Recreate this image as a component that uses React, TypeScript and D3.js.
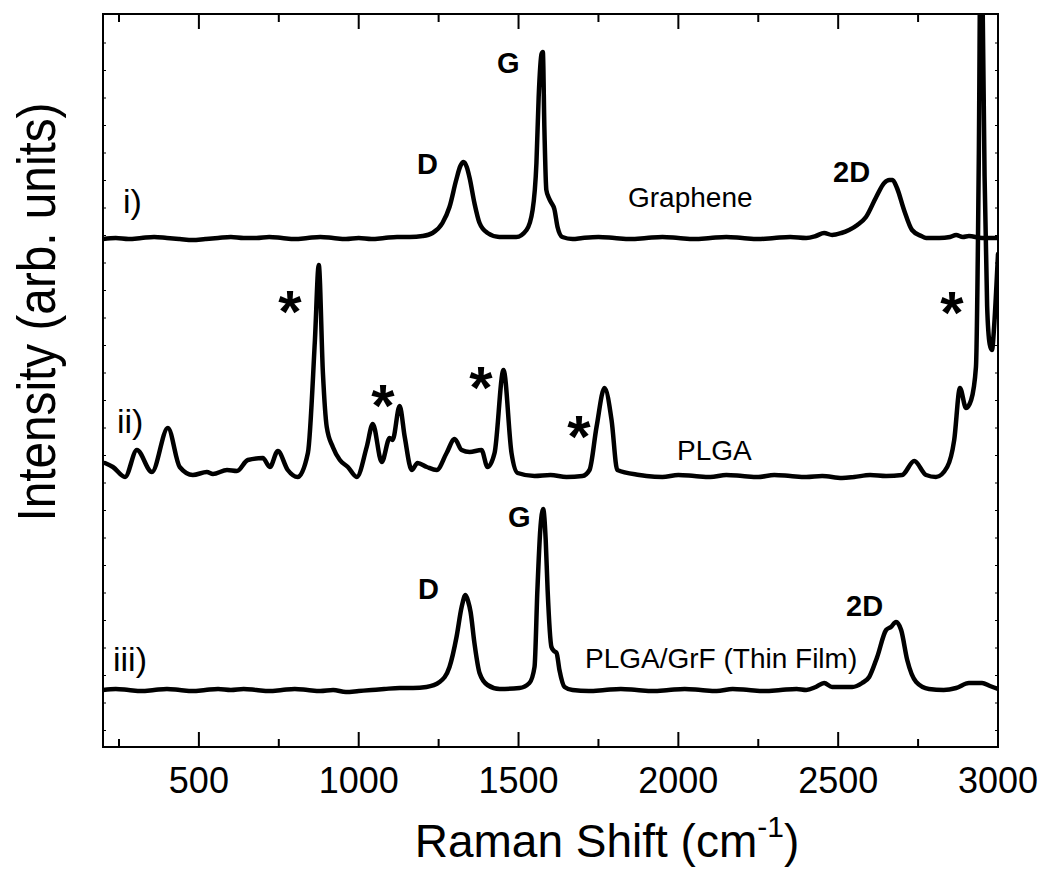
import React from 'react';
import * as d3 from 'd3';

// Raman shift (cm-1) / intensity (arb. units, relative to each trace's own baseline)
const grapheneShift = [200, 240, 280, 320, 360, 400, 440, 480, 520, 560, 600, 640, 680, 720, 760, 800, 840, 880, 920, 960, 1000, 1040, 1080, 1120, 1160, 1200, 1231, 1262, 1284, 1305, 1318, 1328, 1338, 1347, 1362, 1378, 1403, 1440, 1493, 1525, 1544, 1556, 1563, 1572, 1576, 1581, 1587, 1595, 1603, 1612, 1622, 1637, 1669, 1700, 1750, 1800, 1850, 1900, 1950, 2000, 2050, 2100, 2150, 2200, 2250, 2300, 2350, 2400, 2430, 2456, 2481, 2510, 2534, 2560, 2587, 2619, 2644, 2660, 2670, 2684, 2706, 2731, 2760, 2775, 2816, 2850, 2869, 2890, 2909, 2950, 3000];
const grapheneIntensity = [-1, 0, -1, 0, 1, 0, -1, -2, -1, 0, 1, 0, 0, 1, 0, -1, 0, 1, 0, -1, 0, -1, 0, 1, 1, 2, 5, 15, 31, 58, 72, 76, 71, 60, 35, 15, 5, 1, 1, 8, 28, 75, 141, 184, 186, 108, 48, 40, 35, 29, 11, 1, -1, 0, 1, 0, -1, 0, 1, 0, -1, 0, 1, 0, -1, 0, 1, 0, 2, 5, 3, 5, 8, 13, 21, 41, 55, 58, 58, 50, 28, 8, 2, 0, 0, 1, 3, 1, 2, 0, 0];

const plgaShift = [206, 231, 269, 306, 353, 403, 440, 481, 525, 544, 588, 619, 653, 700, 722, 747, 778, 809, 841, 863, 875, 888, 900, 919, 941, 966, 994, 1025, 1044, 1072, 1097, 1106, 1128, 1144, 1166, 1184, 1213, 1244, 1275, 1300, 1322, 1347, 1384, 1403, 1425, 1453, 1478, 1497, 1550, 1600, 1650, 1700, 1722, 1744, 1769, 1791, 1809, 1878, 1900, 1950, 2000, 2050, 2100, 2150, 2200, 2250, 2300, 2350, 2400, 2450, 2512, 2550, 2600, 2650, 2700, 2738, 2775, 2806, 2841, 2863, 2881, 2900, 2916, 2931, 2940, 2946, 2952, 2958, 2966, 2974, 2981, 2988, 2995, 3000];
const plgaIntensity = [13, 9, -1, 26, 4, 48, 9, 1, 4, 2, 6, 5, 16, 18, 9, 25, 6, -1, 23, 136, 211, 103, 49, 29, 16, 9, -1, 29, 52, 14, 38, 36, 70, 39, 6, 13, 9, 6, 23, 37, 26, 24, 26, 9, 23, 106, 23, 3, 0, 1, -1, 0, 6, 49, 88, 56, 6, 1, 0, -1, 1, 0, -1, 1, 0, -1, 1, 0, -1, 0, -2, -1, 1, 0, 1, 15, 1, -1, 9, 36, 88, 68, 76, 109, 320, 560, 470, 300, 170, 132, 126, 150, 190, 222];

const filmShift = [200, 240, 280, 320, 360, 400, 440, 480, 520, 560, 600, 640, 680, 720, 760, 800, 840, 880, 920, 960, 1000, 1040, 1080, 1128, 1170, 1212, 1253, 1284, 1306, 1322, 1334, 1342, 1350, 1362, 1378, 1403, 1441, 1503, 1534, 1550, 1559, 1568, 1577, 1585, 1591, 1603, 1611, 1619, 1628, 1644, 1669, 1720, 1770, 1820, 1870, 1920, 1970, 2020, 2070, 2120, 2170, 2220, 2270, 2320, 2370, 2400, 2430, 2456, 2481, 2544, 2575, 2597, 2622, 2650, 2665, 2681, 2697, 2716, 2744, 2784, 2830, 2869, 2909, 2950, 2975, 3000];
const filmIntensity = [0, 1, 0, -1, 0, 1, 0, -1, 0, 1, 0, 1, 0, -1, 0, 1, 0, -1, 0, -2, -1, 0, 1, 2, 2, 3, 8, 23, 53, 83, 95, 89, 78, 47, 17, 5, 1, 2, 7, 23, 100, 160, 181, 150, 100, 43, 39, 37, 20, 3, 0, -1, 0, 1, 0, -1, 0, 1, 0, -1, 1, 0, -1, 0, 1, 0, 3, 7, 3, 3, 7, 13, 33, 60, 63, 68, 60, 30, 8, 1, 0, 2, 7, 7, 4, 1];

// vertical offsets of the stacked traces
const offsets = { graphene: 509, plga: 271, film: 57 };

const majorTicks = [500, 1000, 1500, 2000, 2500, 3000];
const minorTicks = [250, 750, 1250, 1750, 2250, 2750];

const peakLabels = [
  { text: 'D', x: 417, y: 174 },
  { text: 'G', x: 497, y: 73 },
  { text: '2D', x: 833, y: 182 },
  { text: 'D', x: 418, y: 599 },
  { text: 'G', x: 508, y: 527 },
  { text: '2D', x: 846, y: 616 },
];
const stars = [
  [290, 298],
  [383, 392],
  [481, 374],
  [579, 423],
  [952, 299],
];

const font = '"Liberation Sans", Arial, Helvetica, sans-serif';

const App = () => {
  const W = 1044;
  const H = 869;
  const left = 103, right = 998, top = 14, bottom = 747;

  const x = d3.scaleLinear().domain([200, 3000]).range([left, right]);
  const y = d3.scaleLinear().domain([0, 733]).range([bottom, top]);

  const makeLine = (off: number) =>
    d3.line<[number, number]>()
      .x(d => x(d[0]))
      .y(d => y(d[1] + off))
      .curve(d3.curveMonotoneX);

  const series = [
    { xs: grapheneShift, ys: grapheneIntensity, off: offsets.graphene },
    { xs: plgaShift, ys: plgaIntensity, off: offsets.plga },
    { xs: filmShift, ys: filmIntensity, off: offsets.film },
  ];

  const yTicks = d3.range(704, 10, -27.5);

  return (
    <svg width={W} height={H} style={{ position: 'absolute', left: 0, top: 0, background: '#fff' }} fontFamily={font}>
      <defs>
        <clipPath id="plot">
          <rect x={left} y={top} width={right - left} height={bottom - top} />
        </clipPath>
      </defs>

      <g clipPath="url(#plot)">
        {series.map((s, i) => (
          <path key={i}
            d={makeLine(s.off)(s.xs.map((v, j) => [v, s.ys[j]] as [number, number])) || ''}
            fill="none" stroke="#000" strokeWidth={4.5} strokeLinejoin="round" strokeLinecap="round" />
        ))}
      </g>

      {/* frame */}
      <rect x={left} y={top} width={right - left} height={bottom - top} fill="none" stroke="#000" strokeWidth={2} />
      {majorTicks.map(t => (
        <g key={'M' + t}>
          <line x1={x(t)} x2={x(t)} y1={bottom} y2={bottom - 15} stroke="#000" strokeWidth={2} />
          <line x1={x(t)} x2={x(t)} y1={top} y2={top + 15} stroke="#000" strokeWidth={2} />
          <text x={x(t)} y={793} textAnchor="middle" fontSize={36}>{t}</text>
        </g>
      ))}
      {minorTicks.map(t => (
        <g key={'m' + t}>
          <line x1={x(t)} x2={x(t)} y1={bottom} y2={bottom - 8} stroke="#000" strokeWidth={2} />
          <line x1={x(t)} x2={x(t)} y1={top} y2={top + 8} stroke="#000" strokeWidth={2} />
        </g>
      ))}
      {yTicks.map(t => (
        <g key={'y' + t}>
          <line x1={left} x2={left + 3} y1={y(t)} y2={y(t)} stroke="#000" strokeWidth={1} />
          <line x1={right - 3} x2={right} y1={y(t)} y2={y(t)} stroke="#000" strokeWidth={1} />
        </g>
      ))}

      {/* axis titles */}
      <text x={607} y={857} textAnchor="middle" fontSize={46}>
        Raman Shift (cm<tspan fontSize={30} dy={-20}>-1</tspan><tspan dy={20}>)</tspan>
      </text>
      <text transform="translate(55,312) rotate(-90)" textAnchor="middle" fontSize={54}
        textLength={419} lengthAdjust="spacingAndGlyphs">Intensity (arb. units)</text>

      {/* trace labels */}
      <text x={123} y={213} fontSize={34}>i)</text>
      <text x={117} y={433} fontSize={34}>ii)</text>
      <text x={113} y={671} fontSize={34}>iii)</text>
      <text x={628} y={207} fontSize={28}>Graphene</text>
      <text x={677} y={460} fontSize={28}>PLGA</text>
      <text x={585} y={668} fontSize={28}>PLGA/GrF (Thin Film)</text>

      {peakLabels.map((p, i) => (
        <text key={'p' + i} x={p.x} y={p.y} fontSize={29} fontWeight="bold">{p.text}</text>
      ))}
      {stars.map(([cx, cy], i) => (
        <text key={'s' + i} x={cx} y={cy + 34} textAnchor="middle" fontSize={60} fontWeight="bold">*</text>
      ))}
    </svg>
  );
};

export default App;
